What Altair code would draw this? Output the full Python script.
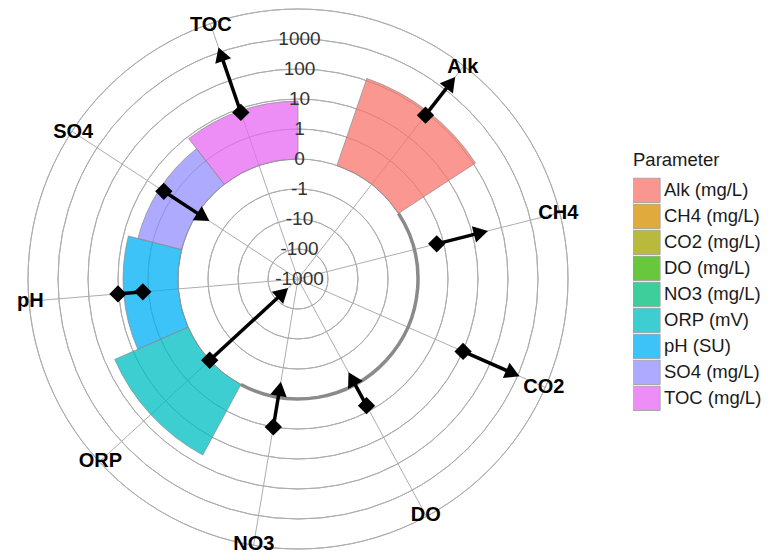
import altair as alt
import pandas as pd

# ---------------- data ----------------
categories = ["Alk", "CH4", "CO2", "DO", "NO3", "ORP", "pH", "SO4", "TOC"]
legend_labels = ["Alk (mg/L)", "CH4 (mg/L)", "CO2 (mg/L)", "DO (mg/L)", "NO3 (mg/L)",
                 "ORP (mV)", "pH (SU)", "SO4 (mg/L)", "TOC (mg/L)"]
bar_values = [117, 0, 0, 0, 0, 47, 6.8, 3.2, 8.5]
arrow_start = [83, 0.77, 10.2, 0.8, 1.0, 0, 10.5, 2.2, 7.4]
arrow_end = [3390, 34, 1150, -0.46, -0.53, -355, 1.55, -0.47, 1450]
arrow_head = [True, True, True, True, True, True, False, True, True]
tick_values = [-1000, -100, -10, -1, 0, 1, 10, 100, 1000]
tick_labels = ["-1000", "-100", "-10", "-1", "0", "1", "10", "100", "1000"]
ring_values = [-100, -10, -1, 0, 1, 10, 100, 1000, 10000]
colors = ["#F8766D", "#D89000", "#A3A500", "#39B600", "#00BF7D",
          "#00BFC4", "#00B0F6", "#9590FF", "#E76BF3"]

# ---------------- geometry helpers ----------------
SIZE = 542
HALF = SIZE / 2
PX_PER_UNIT = 30
RMAX = HALF / PX_PER_UNIT
SLOTS = 9.5
FONT = "Liberation Sans"


def U(f):
    return (f"4 + (abs(datum.{f}) >= 1 ? (datum.{f} < 0 ? -1 : 1) * "
            f"(log(abs(datum.{f})) / LN10 + 1) : datum.{f})")


ANG = f"datum.pos * 2 * PI / {SLOTS}"

xs = alt.Scale(domain=[-RMAX, RMAX], nice=False, zero=False)
ys = alt.Scale(domain=[-RMAX, RMAX], nice=False, zero=False)
ts = alt.Scale(domain=[0, SLOTS], range=[0, 6.283185307179586])
rs = alt.Scale(type="linear", domain=[0, RMAX], range=[0, HALF], zero=True)

df_cat = pd.DataFrame({
    "category": categories,
    "legend_label": legend_labels,
    "pos": list(range(1, len(categories) + 1)),
    "bar_value": bar_values,
    "start": arrow_start,
    "end": arrow_end,
    "head": arrow_head,
})
df_ring = pd.DataFrame({"v": ring_values})
df_tick = pd.DataFrame({"v": tick_values, "label": tick_labels})

base_cat = alt.Chart(df_cat).transform_calculate(a=ANG)

# grid rings
rings = alt.Chart(df_ring).transform_calculate(
    u=U("v"), t0="0", t1=str(SLOTS)
).mark_arc(fillOpacity=0, stroke="#adadad", strokeWidth=1).encode(
    theta=alt.Theta("t0:Q", scale=ts, stack=False),
    theta2="t1:Q",
    radius=alt.Radius("u:Q", scale=rs),
    radius2="u:Q",
)

# spokes
spokes = base_cat.transform_calculate(
    x0="0", y0="0", x1="9 * sin(datum.a)", y1="9 * cos(datum.a)"
).mark_rule(color="#adadad", strokeWidth=1).encode(
    x=alt.X("x0:Q", scale=xs, axis=None),
    y=alt.Y("y0:Q", scale=ys, axis=None),
    x2="x1:Q", y2="y1:Q",
)

# bars
bars = base_cat.transform_calculate(
    t0="datum.pos - 0.5", t1="datum.pos + 0.5", r0="4", r1=U("bar_value")
).mark_arc(stroke="#8a8a8a", fillOpacity=0.76).encode(
    theta=alt.Theta("t0:Q", scale=ts, stack=False),
    theta2="t1:Q",
    radius=alt.Radius("r0:Q", scale=rs),
    radius2="r1:Q",
    color=alt.Color("legend_label:N", title="Parameter",
                    scale=alt.Scale(domain=legend_labels, range=colors),
                    legend=alt.Legend(orient="none", legendX=606, legendY=143,
                                      symbolType="M-1.15,-1H1.15V1H-1.15Z",
                                      symbolSize=600, symbolStrokeColor="#8a8a8a",
                                      symbolStrokeWidth=1, symbolOpacity=0.76,
                                      labelFont=FONT, labelFontSize=18.5,
                                      labelColor="#1a1a1a", labelOffset=5,
                                      titleFont=FONT, titleFontSize=18.5,
                                      titleFontWeight="normal", titleColor="#1a1a1a",
                                      titlePadding=8, rowPadding=0, clipHeight=25.6)),
    strokeWidth=alt.when("datum.bar_value == 0").then(alt.value(3.5)).otherwise(alt.value(0.7)),
)

arrow_calc = base_cat.transform_calculate(
    us=U("start"), ue=U("end"),
).transform_calculate(
    sg="datum.ue >= datum.us ? 1 : -1",
).transform_calculate(
    uh="datum.head ? datum.ue - datum.sg * 0.24 : datum.ue",
    ush="datum.head ? datum.ue - datum.sg * 0.3 : datum.ue",
).transform_calculate(
    xs="datum.us * sin(datum.a)", ys="datum.us * cos(datum.a)",
    xe="datum.ue * sin(datum.a)", ye="datum.ue * cos(datum.a)",
    xh="datum.uh * sin(datum.a)", yh="datum.uh * cos(datum.a)",
    xsh="datum.ush * sin(datum.a)", ysh="datum.ush * cos(datum.a)",
    ang="(datum.a * 180 / PI + (datum.sg < 0 ? 180 : 0)) % 360",
)

shafts = arrow_calc.mark_rule(color="black", strokeWidth=3.5).encode(
    x=alt.X("xs:Q", scale=xs, axis=None),
    y=alt.Y("ys:Q", scale=ys, axis=None),
    x2="xsh:Q", y2="ysh:Q",
)

heads = arrow_calc.transform_filter("datum.head").mark_point(
    shape="triangle-up", filled=True, color="black", opacity=1, size=280
).encode(
    x=alt.X("xh:Q", scale=xs, axis=None),
    y=alt.Y("yh:Q", scale=ys, axis=None),
    angle=alt.Angle("ang:Q", scale=None),
)

start_pts = arrow_calc.mark_point(
    shape="diamond", filled=True, color="black", opacity=1, size=300
).encode(
    x=alt.X("xs:Q", scale=xs, axis=None),
    y=alt.Y("ys:Q", scale=ys, axis=None),
)

end_pts = arrow_calc.transform_filter("!datum.head").mark_point(
    shape="diamond", filled=True, color="black", opacity=1, size=300
).encode(
    x=alt.X("xe:Q", scale=xs, axis=None),
    y=alt.Y("ye:Q", scale=ys, axis=None),
)

# category labels
cat_labels = base_cat.transform_calculate(
    lx="8.95 * sin(datum.a)", ly="8.95 * cos(datum.a)"
).mark_text(font=FONT, fontSize=20, fontWeight="bold", color="black",
            align="center", baseline="middle").encode(
    x=alt.X("lx:Q", scale=xs, axis=None),
    y=alt.Y("ly:Q", scale=ys, axis=None),
    text="category:N",
)

# radial tick labels
tick_text = alt.Chart(df_tick).transform_calculate(
    u=U("v"), x0="0.05"
).mark_text(font=FONT, fontSize=19, color="#333333",
            align="center", baseline="middle").encode(
    x=alt.X("x0:Q", scale=xs, axis=None),
    y=alt.Y("u:Q", scale=ys, axis=None),
    text="label:N",
)

chart = alt.layer(
    rings, spokes, bars, shafts, heads, start_pts, end_pts, cat_labels, tick_text
).properties(
    width=SIZE, height=SIZE,
    padding={"left": 19, "top": 0, "right": 200, "bottom": 10},
    autosize=alt.AutoSizeParams(type="none"),
).configure_view(stroke="transparent")

chart.save("out.html", embed_options={"renderer": "svg", "actions": False})
